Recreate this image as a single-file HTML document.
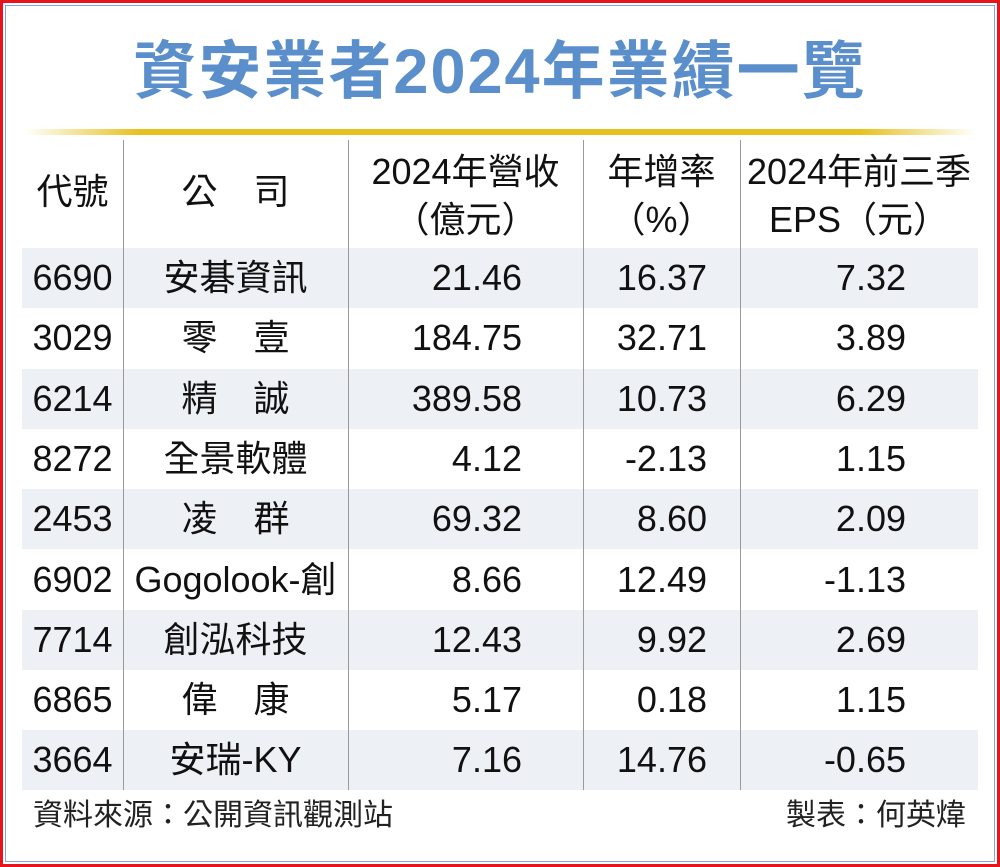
<!DOCTYPE html>
<html><head><meta charset="utf-8">
<style>
body{margin:0;width:1000px;height:867px;background:#fff;font-family:"Liberation Sans","Noto Sans CJK TC",sans-serif;position:relative;overflow:hidden}
.abs{position:absolute}
#outer{left:0;top:0;width:994px;height:861px;border:3px solid #e8141b}
#inner{left:5px;top:5px;width:988px;height:855px;border:1px solid #7fa6d6}
#title{left:0;width:1000px;top:34px;text-align:center;font-size:63px;color:#5b8fcc;font-weight:bold;letter-spacing:2px;line-height:76px}
#gold{left:25px;top:129px;width:950px;height:6px;background:linear-gradient(to right,#fff,#e6c21f 12%,#e6c21f 88%,#fff)}
.vl{top:140px;width:1px;height:650px;background:#999}
.sh{left:22px;width:956px;height:60px;background:#edf0f5}
.t{font-size:36px;color:#111;line-height:40px;white-space:nowrap}
.c{text-align:center}.r{text-align:right}
.foot{font-size:30px;color:#222;top:798px;line-height:36px}
</style></head><body>
<div class="abs" id="outer"></div>
<div class="abs" id="inner"></div>
<div class="abs" id="title">資安業者2024年業績一覽</div>
<div class="abs" id="gold"></div>
<div id="rows"></div>
<div class="abs vl" style="left:123px"></div>
<div class="abs vl" style="left:348px"></div>
<div class="abs vl" style="left:583px"></div>
<div class="abs vl" style="left:740px"></div>
<div class="abs t c" style="left:22px;width:101px;top:172px">代號</div>
<div class="abs t c" style="left:123px;width:225px;top:172px">公　司</div>
<div class="abs t c" style="left:348px;width:235px;top:148px;line-height:48px">2024年營收<br>（億元）</div>
<div class="abs t c" style="left:583px;width:157px;top:148px;line-height:48px">年增率<br>（%）</div>
<div class="abs t c" style="left:740px;width:238px;top:148px;line-height:48px">2024年前三季<br>EPS（元）</div>
<div class="abs foot" style="left:33px">資料來源：公開資訊觀測站</div>
<div class="abs foot" style="right:34px">製表：何英煒</div>
<script>
const codes=["6690","3029","6214","8272","2453","6902","7714","6865","3664"];
const names=["安碁資訊","零　壹","精　誠","全景軟體","凌　群","Gogolook-創","創泓科技","偉　康","安瑞-KY"];
const revenue=["21.46","184.75","389.58","4.12","69.32","8.66","12.43","5.17","7.16"];
const growth=["16.37","32.71","10.73","-2.13","8.60","12.49","9.92","0.18","14.76"];
const eps=["7.32","3.89","6.29","1.15","2.09","-1.13","2.69","1.15","-0.65"];
const host=document.getElementById('rows');
function cell(txt,cls,left,width,top,name){
  const d=document.createElement('div');
  d.className='abs t '+cls;
  d.style.left=left+'px';d.style.width=width+'px';d.style.top=top+'px';
  d.textContent=txt;
  
  
  host.appendChild(d);
}
codes.forEach((c,i)=>{
  const top=248+i*60.3;
  if(i%2===0){
    const s=document.createElement('div');
    s.className='abs sh';s.style.top=top+'px';
    
    
    host.appendChild(s);
  }
  const ty=top+10;
  cell(c,'c',22,101,ty,'cell-code');
  cell(names[i],'c',123,225,ty,'cell-company');
  cell(revenue[i],'r',348,174,ty,'cell-revenue');
  cell(growth[i],'r',583,124,ty,'cell-growth');
  cell(eps[i],'r',740,166,ty,'cell-eps');
});
</script>
</body></html>
